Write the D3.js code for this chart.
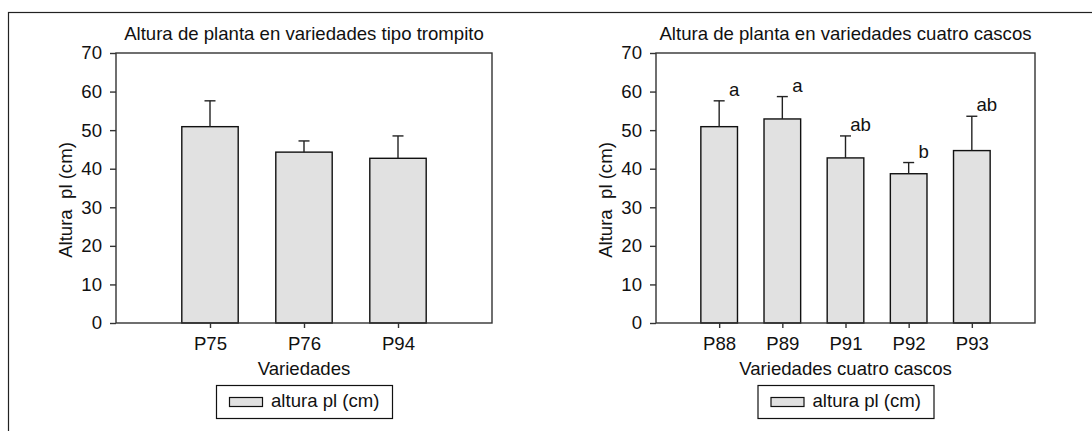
<!DOCTYPE html>
<html>
<head>
<meta charset="utf-8">
<script src="https://cdn.jsdelivr.net/npm/d3@7"></script>
<style>
  html, body { margin: 0; padding: 0; background: #fff; }
  svg { display: block; font-family: "Liberation Sans", Arial, Helvetica, sans-serif; }
  text { fill: #111; }
</style>
</head>
<body>
<div id="chart"></div>
<script>
// --- données ---
const yTicks = [0, 10, 20, 30, 40, 50, 60, 70];

const trompitoCats = ["P75", "P76", "P94"];
const trompitoMeans = [50.9, 44.3, 42.7];
const trompitoErr = [6.7, 2.9, 5.8];

const cascosCats = ["P88", "P89", "P91", "P92", "P93"];
const cascosMeans = [50.9, 52.9, 42.8, 38.7, 44.7];
const cascosErr = [6.7, 5.8, 5.7, 2.9, 8.9];
const cascosLetters = ["a", "a", "ab", "b", "ab"];

const W = 1092, H = 431;
const FS = 18.6;

const svg = d3.select("#chart").append("svg")
    .attr("width", W).attr("height", H);

// cadre extérieur (ouvert à droite et en bas)
svg.append("rect")
    .attr("x", 8.5).attr("y", 12.5)
    .attr("width", W + 20).attr("height", H + 20)
    .attr("fill", "none").attr("stroke", "#222").attr("stroke-width", 1.2);

function panel(opt) {
    const { x0, x1, cats, means, errs, letters, title, xTitle, barRatio } = opt;
    const y0 = 323, y1 = 53;
    const g = svg.append("g");

    const x = d3.scalePoint().domain(cats).range([x0, x1]).padding(1);
    const y = d3.scaleLinear().domain([0, 70]).range([y0, y1]);
    const bw = x.step() * barRatio;

    const rows = cats.map((c, i) => ({ cat: c, mean: means[i], err: errs[i], letter: letters ? letters[i] : null }));

    // titre
    g.append("text")
        .attr("x", (x0 + x1) / 2).attr("y", 40)
        .attr("text-anchor", "middle").style("font-size", FS + "px")
        .text(title);

    // barres
    g.append("g").selectAll("rect").data(rows).join("rect")
        .attr("x", d => x(d.cat) - bw / 2)
        .attr("y", d => y(d.mean))
        .attr("width", bw)
        .attr("height", d => y(0) - y(d.mean))
        .attr("fill", "#e1e1e1").attr("stroke", "#111").attr("stroke-width", 1.4);

    // barres d'erreur (vers le haut seulement)
    const eb = g.append("g").attr("stroke", "#222").attr("stroke-width", 1.4);
    eb.selectAll("line.v").data(rows).join("line").attr("class", "v")
        .attr("x1", d => x(d.cat)).attr("x2", d => x(d.cat))
        .attr("y1", d => y(d.mean)).attr("y2", d => y(d.mean + d.err));
    eb.selectAll("line.h").data(rows).join("line").attr("class", "h")
        .attr("x1", d => x(d.cat) - 5.5).attr("x2", d => x(d.cat) + 5.5)
        .attr("y1", d => y(d.mean + d.err)).attr("y2", d => y(d.mean + d.err));

    // lettres de comparaison
    if (letters) {
        g.append("g").selectAll("text").data(rows).join("text")
            .attr("x", d => x(d.cat) + 15)
            .attr("y", d => y(d.mean + d.err) - 5)
            .attr("text-anchor", "middle").style("font-size", FS + "px")
            .text(d => d.letter);
    }

    // cadre du graphique
    g.append("rect")
        .attr("x", x0).attr("y", y1)
        .attr("width", x1 - x0).attr("height", y0 - y1)
        .attr("fill", "none").attr("stroke", "#333").attr("stroke-width", 1.4);

    // axes
    const ya = g.append("g").attr("transform", `translate(${x0},0)`)
        .call(d3.axisLeft(y).tickValues(yTicks).tickSize(6).tickPadding(8));
    const xa = g.append("g").attr("transform", `translate(0,${y0})`)
        .call(d3.axisBottom(x).tickSize(5).tickPadding(9));
    [ya, xa].forEach(a => {
        a.select(".domain").remove();
        a.selectAll("line").attr("stroke", "#333").attr("stroke-width", 1.4);
        a.selectAll("text").style("font-size", FS + "px").attr("fill", "#111")
            .style("font-family", "'Liberation Sans', Arial, sans-serif");
    });

    // titres d'axes
    g.append("text")
        .attr("x", (x0 + x1) / 2).attr("y", 375)
        .attr("text-anchor", "middle").style("font-size", FS + "px")
        .text(xTitle);
    g.append("text")
        .attr("transform", `translate(${x0 - 44},${(y0 + y1) / 2 + 12}) rotate(-90)`)
        .attr("text-anchor", "middle").style("font-size", FS + "px")
        .style("white-space", "pre")
        .text("Altura  pl (cm)");

    // légende
    const lw = 176, lh = 33, lx = (x0 + x1) / 2 - lw / 2, ly = 385;
    const leg = g.append("g").attr("transform", `translate(${lx},${ly})`);
    leg.append("rect").attr("x", 0.5).attr("y", 0.5).attr("width", lw).attr("height", lh)
        .attr("fill", "#fff").attr("stroke", "#111").attr("stroke-width", 1.2);
    leg.append("rect").attr("x", 13.5).attr("y", 12.5).attr("width", 33).attr("height", 9)
        .attr("fill", "#e1e1e1").attr("stroke", "#111").attr("stroke-width", 1.2);
    leg.append("text").attr("x", 55).attr("y", 22)
        .style("font-size", FS + "px").text("altura pl (cm)");
}

panel({
    x0: 116, x1: 492,
    cats: trompitoCats, means: trompitoMeans, errs: trompitoErr,
    letters: null, barRatio: 0.6,
    title: "Altura de planta en variedades tipo trompito",
    xTitle: "Variedades"
});

panel({
    x0: 656, x1: 1035,
    cats: cascosCats, means: cascosMeans, errs: cascosErr,
    letters: cascosLetters, barRatio: 0.58,
    title: "Altura de planta en variedades cuatro cascos",
    xTitle: "Variedades cuatro cascos"
});
</script>
</body>
</html>
